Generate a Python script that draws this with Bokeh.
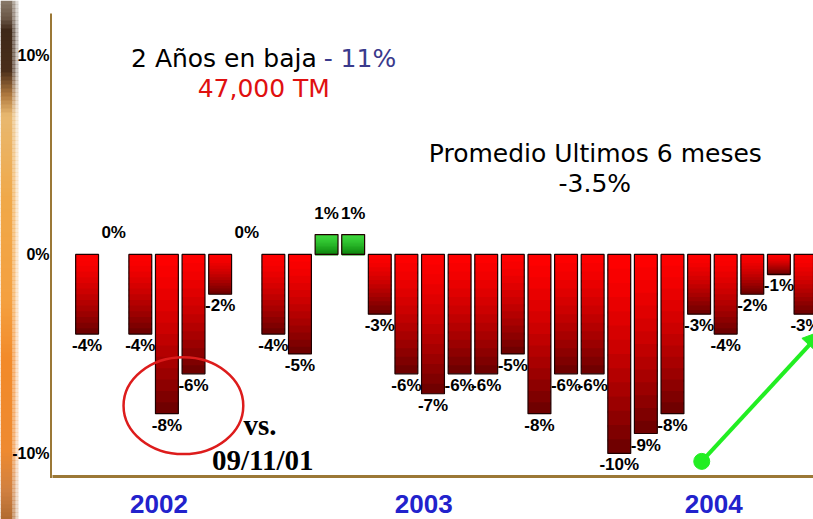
from bokeh.plotting import figure
from bokeh.layouts import row
from bokeh.models import Range1d, FixedTicker, Arrow, NormalHead
from bokeh.core.properties import value
from bokeh.embed import file_html
from bokeh.resources import INLINE

# ---------------- data ----------------
month_index = list(range(28))
changes = [-4, 0, -4, -8, -6, -2, 0, -4, -5, 1, 1, -3, -6, -7, -6, -6,
           -5, -8, -6, -6, -10, -9, -8, -3, -4, -2, -1, -3]
year_labels = ["2002", "2003", "2004"]
year_positions = [2.7, 12.65, 23.55]
y_ticks = [-10, 0, 10]
y_tick_labels = ["-10%", "0%", "10%"]

# ---------------- layout constants ----------------
H = 519
LEFT_W = 52
MAIN_W = 813 - LEFT_W
TOP_B, BOT_B = 13, 43
Y0, Y1 = -11.16, 12.11
AXIS_COLOR = "#9b7836"
PPU = (H - TOP_B - BOT_B) / (Y1 - Y0)

# ---------------- main figure ----------------
p = figure(width=MAIN_W, height=H,
           x_range=Range1d(-1.3, 27.3), y_range=Range1d(Y0, Y1),
           output_backend="svg", toolbar_location=None,
           y_axis_location=None,
           min_border_left=0, min_border_right=0,
           min_border_top=TOP_B, min_border_bottom=BOT_B)
p.frame_align = False
p.background_fill_color = "white"
p.border_fill_color = "white"
p.outline_line_color = None
p.grid.visible = False

p.xaxis.ticker = FixedTicker(ticks=year_positions)
p.xaxis.major_label_overrides = {t: l for t, l in zip(year_positions, year_labels)}
p.xaxis.major_label_text_font = "Liberation Sans"
p.xaxis.major_label_text_font_style = "bold"
p.xaxis.major_label_text_font_size = "26px"
p.xaxis.major_label_text_color = "#2222cc"
p.xaxis.major_label_standoff = 12
p.xaxis.major_tick_line_color = None
p.xaxis.minor_tick_line_color = None
p.xaxis.axis_line_color = AXIS_COLOR
p.xaxis.axis_line_width = 3

# ---------------- gradient bars ----------------
N = 14
OVL = 0.12


def mix(c1, c2, t):
    return "#%02x%02x%02x" % tuple(int(round(a + (b - a) * t)) for a, b in zip(c1, c2))


RED_TOP, RED_BOT = (255, 0, 0), (105, 0, 0)
GRN_TOP, GRN_BOT = (60, 215, 60), (10, 130, 10)

sx, stop, sbot, scol = [], [], [], []
for i, v in zip(month_index, changes):
    if v == 0:
        continue
    for k in range(N):
        a, b = k / N, (k + 1) / N
        ext = OVL if k < N - 1 else 0.0
        t = ((k + 0.5) / N) ** 1.4
        if v < 0:
            top, bot = v * a, v * b - ext
            c = mix(RED_TOP, RED_BOT, t)
        else:
            top, bot = v * (1 - a), v * (1 - b) - ext
            c = mix(GRN_TOP, GRN_BOT, t)
        sx.append(i); stop.append(top); sbot.append(bot); scol.append(c)

p.vbar(x=sx, top=stop, bottom=sbot, width=0.86, fill_color=scol,
       line_color=None)

bars = [(i, v) for i, v in zip(month_index, changes) if v != 0]
p.vbar(x=[b[0] for b in bars], top=[max(b[1], 0) for b in bars],
       bottom=[min(b[1], 0) for b in bars], width=0.86,
       fill_color=None, line_color="#200000", line_width=1.2)

# ---------------- value labels ----------------
neg = [(i, v) for i, v in zip(month_index, changes) if v < 0]
pos = [(i, v) for i, v in zip(month_index, changes) if v >= 0]
LBL = dict(text_font=value("Liberation Sans"), text_font_style="bold",
           text_font_size="17px", text_align="center", text_color="black")
p.text(x=[n[0] for n in neg], y=[n[1] for n in neg],
       text=["%d%%" % n[1] for n in neg], text_baseline="top", y_offset=2, **LBL)
p.text(x=[n[0] for n in pos], y=[n[1] for n in pos],
       text=["%d%%" % n[1] for n in pos], text_baseline="bottom", y_offset=-12, **LBL)

# ---------------- annotations ----------------
SANS = value("DejaVu Sans")
p.text(x=[8.63], y=[9.85], text=["2 Años en baja"], text_font=SANS,
       text_font_size="25px", text_align="right", text_baseline="middle",
       text_color="black")
p.text(x=[8.89], y=[9.85], text=["- 11%"], text_font=SANS,
       text_font_size="25px", text_align="left", text_baseline="middle",
       text_color="#3a3a8c")
p.text(x=[6.64], y=[8.34], text=["47,000 TM"], text_font=SANS,
       text_font_size="25px", text_align="center", text_baseline="middle",
       text_color="#e01010")
p.text(x=[19.1], y=[5.08], text=["Promedio Ultimos 6 meses"], text_font=SANS,
       text_font_size="25px", text_align="center", text_baseline="middle",
       text_color="black")
p.text(x=[19.08], y=[3.57], text=["-3.5%"], text_font=SANS,
       text_font_size="25px", text_align="center", text_baseline="middle",
       text_color="black")

SERIF = value("Liberation Serif")
p.text(x=[5.88], y=[-8.59], text=["vs."], text_font=SERIF,
       text_font_style="bold", text_font_size="29px", text_align="left",
       text_baseline="middle", text_color="black")
p.text(x=[6.6], y=[-10.35], text=["09/11/01"], text_font=SERIF,
       text_font_style="bold", text_font_size="29px", text_align="center",
       text_baseline="middle", text_color="black")

# red ellipse around the 2002 drop
p.ellipse(x=[3.62], y=[-7.6], width=4.5, height=4.87, fill_color=None,
          line_color="#dd1c1c", line_width=2.5)

# green trend arrow
GREEN = "#22ee22"
p.add_layout(Arrow(end=NormalHead(size=20, fill_color=GREEN, line_color=GREEN),
                   x_start=23.1, y_start=-10.4, x_end=27.65, y_end=-3.82,
                   line_color=GREEN, line_width=4))
p.scatter(x=[23.1], y=[-10.4], size=16, fill_color=GREEN, line_color=GREEN)

# ---------------- left panel: decorative strip, y labels, y axis line ----------------
left_range = Range1d(Y0 - BOT_B / PPU, Y1 + TOP_B / PPU)
lf = figure(width=LEFT_W, height=H, x_range=Range1d(0, LEFT_W), y_range=left_range,
            output_backend="svg", toolbar_location=None,
            x_axis_location=None, y_axis_location=None, min_border=0)
lf.frame_align = False
lf.background_fill_color = "white"
lf.border_fill_color = "white"
lf.outline_line_color = None
lf.grid.visible = False


def row_to_y(r):
    return Y1 + TOP_B / PPU - r / PPU


def hex2rgb(h):
    return tuple(int(h[k:k + 2], 16) for k in (1, 3, 5))


# colour stops of the blurred photo strip (row in px from top, colour)
stops = [(0, "#8a7a6a"), (18, "#6a5646"), (30, "#3e2818"), (70, "#4a2e1a"),
         (95, "#b07a40"), (115, "#e8b870"), (200, "#f0a848"), (300, "#f4a040"),
         (360, "#f28a2a"), (450, "#ee8a30"), (490, "#d08040"), (519, "#b06a30")]
band_top, band_bot, band_col = [], [], []
STEP = 4
for r in range(0, H, STEP):
    rc = r + STEP / 2
    for (r0, c0), (r1, c1) in zip(stops[:-1], stops[1:]):
        if r0 <= rc <= r1:
            band_col.append(mix(hex2rgb(c0), hex2rgb(c1), (rc - r0) / (r1 - r0)))
            break
    band_top.append(row_to_y(r))
    band_bot.append(row_to_y(r + STEP + 0.5))

nb = len(band_col)
lf.quad(left=[0] * nb, right=[12] * nb, top=band_top, bottom=band_bot,
        fill_color=band_col, line_color=None)
lf.quad(left=[12] * nb, right=[15] * nb, top=band_top, bottom=band_bot,
        fill_color=band_col, fill_alpha=0.6, line_color=None)
lf.quad(left=[15] * nb, right=[18] * nb, top=band_top, bottom=band_bot,
        fill_color=band_col, fill_alpha=0.25, line_color=None)

lf.text(x=[49] * len(y_ticks), y=y_ticks, text=y_tick_labels,
        text_font=value("Liberation Sans"), text_font_style="bold",
        text_font_size="16px", text_align="right", text_baseline="middle",
        text_color="black")
lf.segment(x0=[51], y0=[Y0 - 1.5 / PPU], x1=[51], y1=[Y1],
           line_color=AXIS_COLOR, line_width=3)

layout = row(lf, p)
open("out.html", "w").write(file_html(layout, INLINE))
